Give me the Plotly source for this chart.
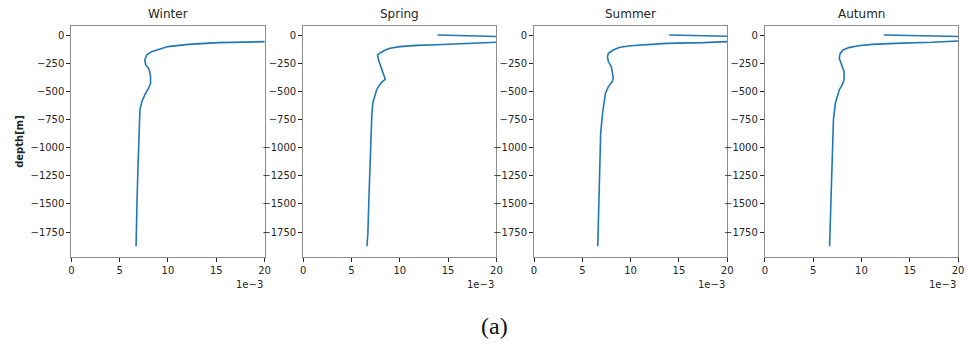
import plotly.graph_objects as go

# Seasonal vertical profiles (values in units of 1e-3, depth in metres).
seasons = ["Winter", "Spring", "Summer", "Autumn"]

winter_val = [40.0, 20.0, 15.2, 12.1, 10.0, 9.0, 8.3, 7.8, 7.6, 7.7, 8.0, 8.1, 8.2, 8.2,
              8.0, 7.6, 7.3, 7.1, 7.0, 6.9, 6.8, 6.7, 6.7]
winter_dep = [-50, -59, -68, -83, -103, -127, -148, -177, -222, -266, -296, -325, -370, -429,
              -473, -532, -591, -665, -872, -1168, -1463, -1757, -1877]

spring_val = [13.9, 34.0, 40.0, 20.0, 17.9, 15.9, 13.8, 11.8, 10.0, 9.0, 8.5, 8.0, 7.7, 7.8,
              8.0, 8.2, 8.4, 8.5, 8.2, 7.9, 7.6, 7.4, 7.2, 7.1, 7.0, 6.9, 6.8, 6.7, 6.6]
spring_dep = [0, -30, -55, -65, -74, -80, -86, -92, -103, -118, -133, -157, -177, -222,
              -266, -310, -355, -393, -414, -443, -488, -547, -606, -724, -931, -1168, -1463,
              -1759, -1877]

summer_val = [14.0, 34.0, 40.0, 20.0, 17.5, 13.7, 12.0, 10.0, 8.9, 8.2, 7.7, 7.6, 7.7, 8.0,
              8.1, 8.2, 8.1, 7.7, 7.4, 7.3, 7.1, 6.9, 6.8, 6.7, 6.6, 6.6]
summer_dep = [0, -33, -50, -59, -68, -74, -83, -95, -109, -133, -163, -192, -236, -281,
              -325, -384, -414, -458, -517, -576, -695, -872, -1168, -1463, -1759, -1877]

autumn_val = [12.3, 30.0, 40.0, 20.0, 17.3, 13.5, 11.1, 9.7, 8.7, 8.1, 7.8, 7.7, 7.9, 8.0,
              8.2, 8.2, 8.0, 7.7, 7.5, 7.3, 7.1, 7.0, 6.9, 6.8, 6.7]
autumn_dep = [0, -20, -45, -53, -65, -74, -83, -95, -112, -133, -163, -207, -251, -281,
              -325, -399, -443, -488, -547, -606, -754, -990, -1256, -1522, -1877]

profiles = [
    (winter_val, winter_dep),
    (spring_val, spring_dep),
    (summer_val, summer_dep),
    (autumn_val, autumn_dep),
]

x_ticks = [0, 5, 10, 15, 20]
y_ticks = [0, -250, -500, -750, -1000, -1250, -1500, -1750]

W, H = 968, 347
panel_left = [69, 303, 536, 769]
panel_width = 195
plot_top, plot_bottom = 26, 257

line_color = "#1f77b4"
text_color = "#262626"
frame_color = "#8c8c8c"
font_family = "DejaVu Sans, sans-serif"

fig = go.Figure()
layout = dict(
    width=W, height=H,
    margin=dict(l=0, r=0, t=0, b=0),
    paper_bgcolor="white", plot_bgcolor="white",
    showlegend=False,
    font=dict(family=font_family, size=10, color=text_color),
    annotations=[],
)

y_dom = [(H - plot_bottom) / H, (H - plot_top) / H]

for i, (name, (vals, deps)) in enumerate(zip(seasons, profiles)):
    n = "" if i == 0 else str(i + 1)
    fig.add_trace(go.Scatter(
        x=vals, y=deps, mode="lines",
        line=dict(color=line_color, width=1.6),
        xaxis="x" + n, yaxis="y" + n,
        hoverinfo="skip",
    ))
    x0 = panel_left[i] / W
    x1 = (panel_left[i] + panel_width) / W
    common = dict(
        showgrid=False, zeroline=False,
        showline=True, mirror=True, linecolor=frame_color, linewidth=1,
        ticks="outside", ticklen=4, tickwidth=1, tickcolor=text_color,
        tickfont=dict(family=font_family, size=10, color=text_color),
    )
    layout["xaxis" + n] = dict(
        domain=[x0, x1], anchor="y" + n, range=[0, 20],
        tickvals=x_ticks, ticktext=[str(v) for v in x_ticks], **common,
    )
    layout["yaxis" + n] = dict(
        domain=y_dom, anchor="x" + n, range=[-1972, 80],
        tickvals=y_ticks, ticktext=[f"\u2212{-v}" if v < 0 else str(v) for v in y_ticks],
        **common,
    )
    # Panel title
    layout["annotations"].append(dict(
        text=name, xref="paper", yref="paper",
        x=(x0 + x1) / 2, y=(H - 14) / H, xanchor="center", yanchor="middle",
        showarrow=False, font=dict(family=font_family, size=12, color=text_color),
    ))
    # Offset / scale label under the x axis
    layout["annotations"].append(dict(
        text="1e\u22123", xref="paper", yref="paper",
        x=x1, y=(H - 284) / H, xanchor="right", yanchor="middle",
        showarrow=False, font=dict(family=font_family, size=10, color=text_color),
    ))

layout["annotations"].append(dict(
    text="<b>depth[m]</b>", xref="paper", yref="paper",
    x=16 / W, y=(H - 141) / H, xanchor="center", yanchor="middle", textangle=-90,
    showarrow=False, font=dict(family=font_family, size=10, color=text_color),
))
layout["annotations"].append(dict(
    text="(a)", xref="paper", yref="paper",
    x=496 / W, y=(H - 326) / H, xanchor="center", yanchor="middle",
    showarrow=False, font=dict(family="Liberation Serif, DejaVu Serif, serif", size=24, color="#111111"),
))

fig.update_layout(**layout)
fig.write_html("out.html")
